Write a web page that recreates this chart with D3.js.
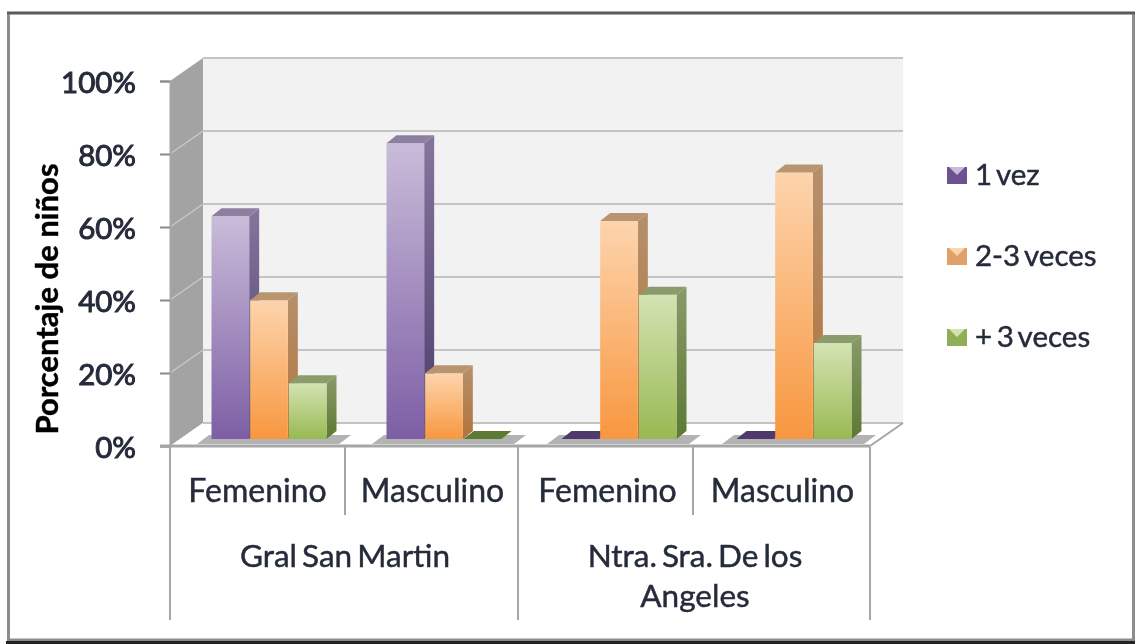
<!DOCTYPE html>
<html><head><meta charset="utf-8">
<script src="https://cdn.jsdelivr.net/npm/d3@7"></script>
<style>html,body{margin:0;background:#fff;overflow:hidden}svg{display:block;filter:blur(.5px)}text{font-family:Lato,"Open Sans",sans-serif;fill:#252b3a;stroke:#252b3a;stroke-width:.45px}</style>
</head><body><div id="c"></div>
<script>
const schools = ["Gral San Martin", ["Ntra. Sra. De los", "Angeles"]];
const genders = ["Femenino", "Masculino", "Femenino", "Masculino"];
const seriesNames = ["1 vez", "2-3 veces", "+ 3 veces"];
const vez1 = [61, 81, 0, 0];
const veces23 = [38, 18, 59.7, 73];
const veces3 = [15.3, 0, 39.5, 26.3];
const yTicks = [0, 20, 40, 60, 80, 100];
const palette = [
 {light:"#c9bcd9",base:"#7d5ea5",sideT:"#85759c",sideB:"#4e3b6c",top:"#8d7f9f"},
 {light:"#fdd4ad",base:"#f8973f",sideT:"#b5906c",sideB:"#b3733a",top:"#b8946f"},
 {light:"#d4e3b3",base:"#98b952",sideT:"#8a9a6b",sideB:"#5c7a32",top:"#8b9c6c"}];
const seriesValues = [vez1, veces23, veces3];

const W=1135,H=644;
const svg=d3.select("#c").append("svg").attr("width",W).attr("height",H);
const defs=svg.append("defs");
palette.forEach((p,i)=>{
  const g=(id,a,b)=>{const l=defs.append("linearGradient").attr("id",id).attr("x1",0).attr("x2",0).attr("y1",0).attr("y2",1);
    l.append("stop").attr("offset",0).attr("stop-color",a);l.append("stop").attr("offset",1).attr("stop-color",b);};
  g("f"+i,p.light,p.base); g("s"+i,p.sideT,p.sideB);
});
// frame
svg.append("rect").attr("x",8.5).attr("y",13).attr("width",1125).attr("height",627).attr("fill","#fff").attr("stroke","#8c8c8c").attr("stroke-width",3);
svg.append("line").attr("x1",7).attr("x2",1135).attr("y1",13).attr("y2",13).attr("stroke","#5a5a5a").attr("stroke-width",2.5);
svg.append("rect").attr("x",6).attr("y",641).attr("width",1129).attr("height",3).attr("fill","#222");

const dx=33,dy=-23;
const y=d3.scaleLinear().domain([0,100]).range([446,81]);
const x0=d3.scaleBand().domain(d3.range(4)).range([170,870]);
const x1=d3.scaleBand().domain(d3.range(3)).range([41,157]);
const pts=a=>a.map(p=>p.join(",")).join(" ");

// walls
svg.append("polygon").attr("points",pts([[170+dx,y(100)+dy],[870+dx,y(100)+dy],[870+dx,y(0)+dy],[170+dx,y(0)+dy]])).attr("fill","#f2f2f2");
svg.append("polygon").attr("points",pts([[170,y(100)],[170+dx,y(100)+dy],[170+dx,y(0)+dy],[170,y(0)]])).attr("fill","#a3a3a3");
svg.append("polygon").attr("points",pts([[170,y(0)],[170+dx,y(0)+dy],[870+dx,y(0)+dy],[870,y(0)]])).attr("fill","#fff");
// gridlines
yTicks.forEach(t=>{
  svg.append("line").attr("x1",170+dx).attr("x2",870+dx).attr("y1",y(t)+dy).attr("y2",y(t)+dy).attr("stroke","#c4c4c4").attr("stroke-width",2.2);
  if(t>0&&t<100)svg.append("line").attr("x1",170).attr("x2",170+dx).attr("y1",y(t)).attr("y2",y(t)+dy).attr("stroke","#c8c8c8").attr("stroke-width",1.5);
});
svg.append("line").attr("x1",870).attr("x2",870+dx).attr("y1",y(0)).attr("y2",y(0)+dy).attr("stroke","#a6a6a6").attr("stroke-width",2);

// y axis
const ax=svg.append("g").attr("transform","translate(170,0)").call(d3.axisLeft(y).tickValues(yTicks).tickFormat(d=>d+"%").tickSize(10).tickPadding(24));
ax.select(".domain").attr("stroke","#a6a6a6").attr("stroke-width",2);
ax.selectAll(".tick line").attr("stroke","#8a8a8a").attr("stroke-width",2);
ax.selectAll("text").attr("font-size",29.5).attr("transform","translate(0,2)").style("font-family","Lato").style("stroke-width","1px");

// floor shadows + bars
const depthX=10,depthY=-8,shift=-7;
d3.range(4).forEach(g=>{
  const L=x0(g)+x1(0),R=x0(g)+x1(2)+x1.bandwidth();
  svg.append("polygon").attr("points",pts([[L-14,444],[L-2,435],[R+24,435],[R+12,444]])).attr("fill","#b3b3b3");
});
svg.append("line").attr("x1",160).attr("x2",870).attr("y1",y(0)).attr("y2",y(0)).attr("stroke","#a6a6a6").attr("stroke-width",3);

d3.range(4).forEach(g=>{
  seriesValues.forEach((vals,s)=>{
    const v=vals[g],xl=x0(g)+x1(s)+.5,bw=x1.bandwidth()-1,t=y(v)+shift,b=y(0)+shift;
    const G=svg.append("g");
    const p=palette[s];
    if(v>0){
      G.append("polygon").attr("points",pts([[xl+bw,t],[xl+bw+depthX,t+depthY],[xl+bw+depthX,b+depthY],[xl+bw,b]])).attr("fill",`url(#s${s})`);
      G.append("rect").attr("x",xl).attr("y",t).attr("width",bw).attr("height",b-t).attr("fill",`url(#f${s})`);
    }
    G.append("polygon").attr("points",pts([[xl,t],[xl+depthX,t+depthY],[xl+bw+depthX,t+depthY],[xl+bw,t]])).attr("fill",v>0?p.top:p.sideB);
  });
});

// category axis
[[170,620],[345,515],[518,620],[693,515],[870,620]].forEach(([xp,yb])=>{
  svg.append("line").attr("x1",xp).attr("x2",xp).attr("y1",447).attr("y2",yb).attr("stroke","#a6a6a6").attr("stroke-width",2);
});
genders.forEach((t,i)=>svg.append("text").attr("x",x0(i)+x0.bandwidth()/2).attr("y",502).attr("text-anchor","middle").attr("font-size",32).text(t));
svg.append("text").attr("x",x0(0)+x0.bandwidth()).attr("y",567).attr("text-anchor","middle").attr("font-size",31.5).attr("word-spacing",-3).text(schools[0]);
schools[1].forEach((t,i)=>svg.append("text").attr("x",x0(2)+x0.bandwidth()).attr("y",567+i*40).attr("text-anchor","middle").attr("font-size",31.5).attr("word-spacing",-3).text(t));

// y title
svg.append("text").attr("transform","translate(58,299) rotate(-90)").attr("text-anchor","middle").attr("font-size",31).attr("font-weight",700).style("fill","#000").style("stroke","#000").text("Porcentaje de niños");

// legend
const ly=d3.scalePoint().domain(seriesNames).range([175,337]);
seriesNames.forEach((n,i)=>{
  const cy=ly(n),p=palette[i];
  svg.append("rect").attr("x",947).attr("y",cy-8).attr("width",20).attr("height",17).attr("fill",i==0?"#6d5190":i==1?"#e0a06a":"#8fae55");
  svg.append("polygon").attr("points",pts([[949,cy-8],[965,cy-8],[957,cy]])).attr("fill",p.light);
  svg.append("text").attr("x",975).attr("y",cy+10).attr("font-size",29.5).attr("word-spacing",-3).text(n);
});
</script></body></html>
